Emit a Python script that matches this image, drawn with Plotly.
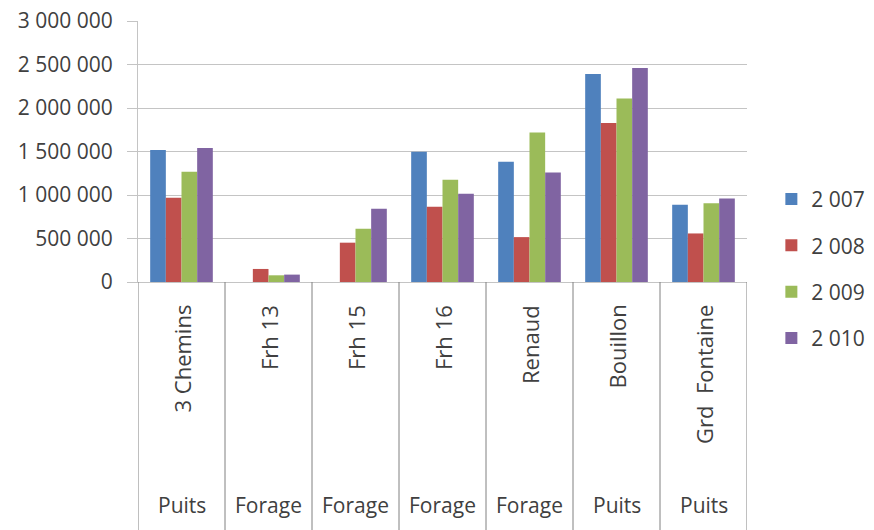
import plotly.graph_objects as go

sites = ["3 Chemins", "Frh 13", "Frh 15", "Frh 16", "Renaud", "Bouillon", "Grd  Fontaine"]
types = ["Puits", "Forage", "Forage", "Forage", "Forage", "Puits", "Puits"]
years = ["2 007", "2 008", "2 009", "2 010"]
v2007 = [1518000, 0, 0, 1498000, 1381000, 2390000, 888000]
v2008 = [968000, 150000, 452000, 865000, 516000, 1828000, 558000]
v2009 = [1266000, 77000, 612000, 1174000, 1717000, 2110000, 906000]
v2010 = [1541000, 85000, 842000, 1014000, 1258000, 2459000, 960000]
colors = ["#4F81BD", "#C0504D", "#9BBB59", "#8064A2"]
yticks = [0, 500000, 1000000, 1500000, 2000000, 2500000, 3000000]

FONT = "Open Sans"
TXT = "#404040"
GRID = "#c4c4c4"
DIV = "#808080"

fig = go.Figure()
for name, vals, col in zip(years, [v2007, v2008, v2009, v2010], colors):
    fig.add_trace(go.Bar(x=sites, y=vals, name=name, marker=dict(color=col, line=dict(width=0)),
                         legendgroup=name))

fig.update_layout(
    width=874, height=530,
    margin=dict(l=130, r=126, t=13, b=256),
    paper_bgcolor="white", plot_bgcolor="white",
    separators=", ",
    barmode="group", bargap=0.28, bargroupgap=0,
    font=dict(family=FONT, size=21, color=TXT),
    showlegend=True,
    legend=dict(x=1.04, y=0.395, xanchor="left", yanchor="top",
                font=dict(family=FONT, size=21, color=TXT),
                traceorder="grouped", tracegroupgap=16, bgcolor="rgba(0,0,0,0)"),
    xaxis=dict(type="category", showticklabels=False, showgrid=False, zeroline=False,
               showline=True, linecolor=GRID, linewidth=1, ticks="", automargin=False,
               range=[-0.5, len(sites) - 0.5]),
    yaxis=dict(range=[0, 3000000], tickvals=yticks, tickformat=",d", showgrid=True,
               gridcolor=GRID, gridwidth=1, zeroline=False, showline=True, linecolor=GRID,
               linewidth=1, ticks="outside", ticklen=10, tickcolor=GRID,
               ticklabelstandoff=10, automargin=False, ticklabeloverflow="allow",
               tickfont=dict(family=FONT, size=21, color=TXT)),
)

# category dividers through the label area
for i in range(len(sites) + 1):
    fig.add_shape(type="line", xref="x", yref="paper", x0=i - 0.5, x1=i - 0.5, y0=0, y1=-1.0,
                  line=dict(color=DIV, width=1))

for i, (s, t) in enumerate(zip(sites, types)):
    fig.add_annotation(x=s, xref="x", y=0, yref="paper", yshift=-21, text=s, textangle=-90,
                       showarrow=False, xanchor="center", yanchor="top",
                       font=dict(family=FONT, size=22, color=TXT))
    fig.add_annotation(x=s, xref="x", y=-0.854, yref="paper", text=t,
                       showarrow=False, xanchor="center", yanchor="middle",
                       font=dict(family=FONT, size=21, color=TXT))

fig.write_html("out.html")
